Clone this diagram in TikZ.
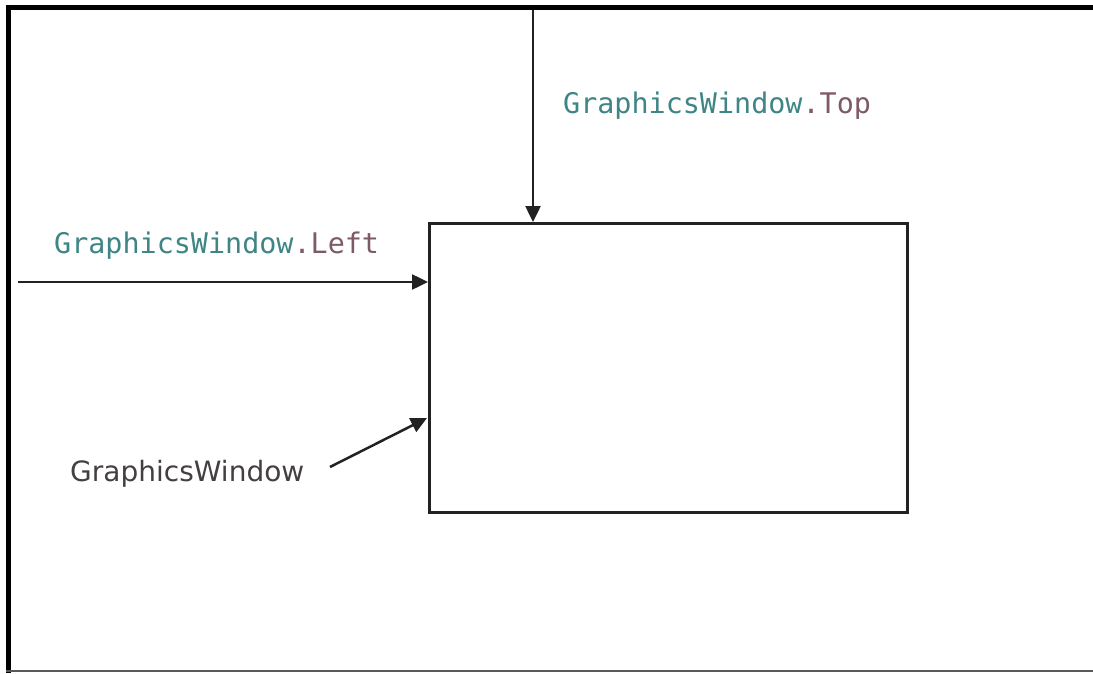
\documentclass[tikz,border=0pt]{standalone}
\usepackage{fontspec}
\setmainfont{DejaVu Sans}
\setmonofont{DejaVu Sans Mono}
\usetikzlibrary{arrows.meta}
\definecolor{propteal}{HTML}{3F8585}
\definecolor{propmauve}{HTML}{7E5A68}
\definecolor{plaintext}{HTML}{454040}
\definecolor{linegray}{HTML}{222222}
\tikzset{
  pointer/.style={draw=linegray, line width=2.5pt,
    -{Triangle[length=16pt,width=15pt]}},
  windowbox/.style={draw=linegray, line width=2.5pt, minimum width=478pt,
    minimum height=289pt, inner sep=0pt, anchor=north west},
  codelabel/.style={font=\fontsize{28.4}{30}\ttfamily, inner sep=0pt, anchor=base west},
  plainlabel/.style={font=\fontsize{28}{30}\selectfont, text=plaintext, inner sep=0pt, anchor=base west}
}
\begin{document}
\begin{tikzpicture}[x=1pt, y=-1pt]
  \useasboundingbox (0,0) rectangle (1093,674);
  \fill[white] (0,0) rectangle (1093,674);
  % screen frame
  \draw[line width=5pt, black] (1093,7.5) -- (8.5,7.5) -- (8.5,673);
  \draw[line width=2.5pt, gray!70!black] (6,671) -- (1093,671);
  % the graphics window
  \node[windowbox] (win) at (428,222) {};
  % start points of the pointers
  \coordinate (topstart) at (533,10);
  \coordinate (leftstart) at (18,282);
  \coordinate (namestart) at (330,467);
  \draw[pointer] (topstart) -- (topstart |- win.north);
  \draw[pointer] (leftstart) -- (leftstart -| win.west);
  \draw[pointer] (namestart) -- (427,418);
  % labels
  \node[codelabel] (toplabel) at (563,114) {\textcolor{propteal}{GraphicsWindow}\textcolor{propmauve}{.Top}};
  \node[codelabel] (leftlabel) at (54,253) {\textcolor{propteal}{GraphicsWindow}\textcolor{propmauve}{.Left}};
  \node[plainlabel] (namelabel) at (70,481) {GraphicsWindow};
\end{tikzpicture}
\end{document}
